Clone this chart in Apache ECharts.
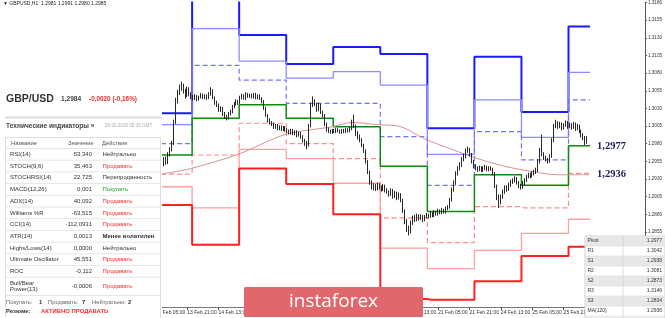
<!DOCTYPE html>
<html><head><meta charset="utf-8">
<script src="https://cdn.jsdelivr.net/npm/echarts@6/dist/echarts.min.js"></script>
<style>html,body{margin:0;padding:0;background:#fff}#c{width:665px;height:318px}</style>
</head><body><div id="c"></div>
<script>
// ---- time axis (H1 bars, trading days) ----
const tradingDays = ['7 Feb','10 Feb','11 Feb','12 Feb','13 Feb','14 Feb','17 Feb','18 Feb','19 Feb','20 Feb','21 Feb','24 Feb','25 Feb','26 Feb','27 Feb'];
const firstDayStartHour = 22;
const totalSlots = 329;
const labelEveryBars = 16;
const firstLabelTime = '13 Feb 05:00';

// ---- candles (visible part, from 13 Feb 08:00) ----
const candleStartTime = '13 Feb 08:00';
const firstOpen = 1.2945;
const closes = [1.2950,1.2958,1.2953,1.2965,1.2972,1.2980,
1.3010,1.3040,
1.3052,1.3060,1.3062,1.3055,1.3048,1.3058,1.3050,1.3046,
1.3044,1.3047,1.3043,1.3046,1.3049,1.3045,1.3048,1.3044,1.3050,1.3055,
1.3045,1.3038,1.3035,1.3028,1.3030,1.3022,1.3018,1.3016,
1.3022,1.3025,1.3032,1.3036,1.3040,1.3038,
1.3045,1.3048,1.3044,1.3050,1.3047,1.3049,1.3046,1.3050,1.3045,1.3048,1.3044,1.3040,
1.3030,1.3020,1.3013,1.3010,
1.3008,1.3003,1.3006,1.3001,1.3004,1.3000,1.3003,1.2999,
1.2998,1.2995,1.2999,1.2994,1.2997,1.2992,1.2995,1.2990,1.2985,1.2980,
1.2978,
1.3005,1.3035,1.3040,
1.3036,1.3028,1.3035,1.3025,1.3020,
1.3008,1.3000,1.2998,
1.2996,1.2999,1.2997,1.3000,1.2998,1.2996,1.2999,1.2997,1.3000,1.2998,1.3001,
1.3010,1.3005,1.2995,
1.2990,1.2985,1.2978,1.2970,
1.2955,1.2940,1.2925,1.2918,
1.2920,1.2916,1.2922,1.2918,1.2915,1.2920,1.2914,
1.2912,1.2908,1.2914,1.2905,1.2910,1.2903,1.2908,1.2900,
1.2885,1.2870,1.2860,1.2856,
1.2868,1.2875,1.2872,1.2878,1.2874,1.2877,1.2872,1.2876,1.2879,
1.2877,1.2881,1.2878,1.2883,1.2880,1.2885,1.2882,1.2886,1.2883,1.2888,1.2890,
1.2900,1.2915,1.2925,1.2938,1.2945,
1.2950,1.2958,1.2962,1.2970,1.2972,
1.2965,1.2955,1.2948,1.2945,1.2943,
1.2946,1.2942,1.2945,1.2947,1.2943,1.2946,1.2944,1.2938,
1.2920,1.2905,1.2898,
1.2905,1.2912,1.2918,1.2915,1.2922,1.2926,1.2928,1.2931,
1.2925,1.2920,1.2918,1.2924,1.2928,
1.2933,1.2936,1.2934,1.2938,1.2940,1.2942,
1.2955,1.2970,1.2965,1.2960,
1.2958,1.2955,1.2962,
1.2985,1.3005,1.3010,
1.3005,1.3008,1.3002,1.3006,1.3010,1.3004,1.3007,
1.3003,1.3008,1.3001,1.3005,
1.2998,1.2992,1.2988,1.2981,1.2985];
const highs = [1.2954,1.2961,1.2962,1.2968,1.2975,1.2984,
1.3014,1.3045,
1.3056,1.3064,1.3068,1.3065,1.3058,1.3061,1.3060,1.3053,
1.3049,1.3050,1.3049,1.3048,1.3052,1.3051,1.3050,1.3050,1.3053,1.3060,
1.3057,1.3047,1.3041,1.3037,1.3033,1.3032,1.3025,1.3021,
1.3025,1.3028,1.3035,1.3039,1.3043,1.3042,
1.3048,1.3051,1.3050,1.3053,1.3052,1.3051,1.3051,1.3052,1.3052,1.3050,1.3050,1.3046,
1.3042,1.3032,1.3022,1.3016,
1.3012,1.3010,1.3008,1.3008,1.3006,1.3006,1.3005,1.3005,
1.3002,1.3000,1.3001,1.3001,1.2999,1.2999,1.2997,1.2997,1.2992,1.2987,
1.2984,
1.3008,1.3038,1.3047,
1.3043,1.3038,1.3038,1.3037,1.3027,
1.3022,1.3010,1.3003,
1.3000,1.3001,1.3001,1.3002,1.3002,1.3000,1.3001,1.3001,1.3002,1.3002,1.3004,
1.3014,1.3021,1.3007,
1.2998,1.2993,1.2988,1.2980,
1.2972,1.2957,1.2942,1.2928,
1.2924,1.2923,1.2925,1.2924,1.2921,1.2923,1.2922,
1.2917,1.2914,1.2917,1.2916,1.2913,1.2912,1.2911,1.2910,
1.2902,1.2887,1.2873,1.2864,
1.2871,1.2878,1.2879,1.2881,1.2880,1.2880,1.2879,1.2879,1.2882,
1.2881,1.2884,1.2883,1.2886,1.2885,1.2888,1.2887,1.2889,1.2888,1.2891,1.2893,
1.2903,1.2918,1.2928,1.2941,1.2948,
1.2954,1.2961,1.2966,1.2973,1.2976,
1.2974,1.2967,1.2957,1.2951,1.2948,
1.2949,1.2948,1.2948,1.2950,1.2949,1.2948,1.2948,1.2946,
1.2940,1.2922,1.2908,
1.2908,1.2915,1.2921,1.2921,1.2925,1.2929,1.2931,1.2934,
1.2933,1.2927,1.2923,1.2927,1.2931,
1.2936,1.2939,1.2939,1.2941,1.2943,1.2946,
1.2958,1.2974,1.2993,1.2968,
1.2963,1.2960,1.2965,
1.2988,1.3008,1.3014,
1.3012,1.3011,1.3010,1.3009,1.3013,1.3012,1.3010,
1.3009,1.3011,1.3010,1.3008,
1.3007,1.3000,1.2995,1.2991,1.2991];
const lows = [1.2943,1.2948,1.2950,1.2951,1.2962,1.2969,
1.2978,1.3008,
1.3037,1.3049,1.3055,1.3051,1.3044,1.3046,1.3047,1.3043,
1.3041,1.3042,1.3040,1.3041,1.3044,1.3043,1.3043,1.3042,1.3043,1.3048,
1.3043,1.3035,1.3032,1.3025,1.3025,1.3019,1.3015,1.3013,
1.3014,1.3020,1.3023,1.3030,1.3034,1.3035,
1.3036,1.3043,1.3042,1.3042,1.3045,1.3045,1.3044,1.3044,1.3043,1.3043,1.3042,1.3037,
1.3028,1.3018,1.3010,1.3007,
1.3005,1.3001,1.3001,1.2999,1.2999,1.2998,1.2998,1.2997,
1.2995,1.2993,1.2993,1.2992,1.2992,1.2989,1.2990,1.2987,1.2982,1.2977,
1.2972,
1.2976,1.3003,1.3032,
1.3033,1.3025,1.3026,1.3022,1.3017,
1.3005,1.2997,1.2995,
1.2994,1.2994,1.2995,1.2995,1.2996,1.2994,1.2994,1.2995,1.2995,1.2996,1.2996,
1.2999,1.3002,1.2991,
1.2986,1.2982,1.2975,1.2967,
1.2952,1.2937,1.2922,1.2915,
1.2914,1.2913,1.2914,1.2915,1.2912,1.2913,1.2911,
1.2909,1.2905,1.2906,1.2902,1.2903,1.2900,1.2901,1.2897,
1.2882,1.2866,1.2855,1.2850,
1.2853,1.2865,1.2869,1.2870,1.2871,1.2872,1.2869,1.2870,1.2874,
1.2874,1.2875,1.2876,1.2876,1.2878,1.2878,1.2880,1.2880,1.2881,1.2881,1.2886,
1.2888,1.2898,1.2912,1.2922,1.2935,
1.2942,1.2947,1.2955,1.2959,1.2967,
1.2962,1.2952,1.2945,1.2942,1.2940,
1.2941,1.2940,1.2940,1.2943,1.2941,1.2941,1.2942,1.2935,
1.2917,1.2900,1.2889,
1.2894,1.2902,1.2909,1.2912,1.2913,1.2919,1.2923,1.2925,
1.2922,1.2917,1.2915,1.2916,1.2921,
1.2926,1.2931,1.2931,1.2932,1.2935,1.2937,
1.2940,1.2952,1.2962,1.2957,
1.2955,1.2952,1.2953,
1.2960,1.2982,1.3002,
1.3001,1.3002,1.2999,1.3000,1.3004,1.3001,1.3002,
1.3000,1.3001,1.2998,1.2999,
1.2995,1.2989,1.2985,1.2978,1.2980];

// ---- daily pivot levels (13 Feb .. 26 Feb) ----
const pivotDays = ['13 Feb','14 Feb','17 Feb','18 Feb','19 Feb','20 Feb','21 Feb','24 Feb','25 Feb','26 Feb'];
const R3 = [1.3023,1.3218,1.3134,1.3093,1.3117,1.3107,1.3002,1.3103,1.3025,1.3146];
const R2 = [1.3007,1.3143,1.3097,1.3073,1.3082,1.3063,1.2965,1.3042,1.2989,1.3081];
const R1 = [1.2980,1.3091,1.3070,1.3037,1.3037,1.2990,1.2921,1.2997,1.2957,1.3042];
const PP = [1.2964,1.3016,1.3035,1.3016,1.3004,1.2948,1.2884,1.2936,1.2921,1.2977];
const S1 = [1.2937,1.2964,1.3009,1.2980,1.2959,1.2875,1.2840,1.2891,1.2889,1.2938];
const S2 = [1.2919,1.2889,1.2972,1.2959,1.2924,1.2832,1.2803,1.2829,1.2853,1.2873];
const S3 = [1.2893,1.2837,1.2945,1.2923,1.2880,1.2760,1.2759,1.2785,1.2821,1.2834];

// ---- MA(120) read at sample times ----
const maTimes = ['13 Feb 08:00','13 Feb 23:00','14 Feb 23:00','17 Feb 23:00','18 Feb 23:00','19 Feb 09:00','19 Feb 22:00','20 Feb 10:00','20 Feb 22:00','21 Feb 12:00','24 Feb 01:00','24 Feb 15:00','25 Feb 04:00','25 Feb 18:00','26 Feb 10:00'];
const maValues = [1.2937,1.2945,1.2965,1.2993,1.3004,1.3010,1.3007,1.3004,1.2987,1.2972,1.2959,1.2948,1.2941,1.2936,1.2936];

// ---- price axis labels ----
const priceTicks = [1.2855,1.2880,1.2905,1.2930,1.2955,1.2980,1.3005,1.3030,1.3055,1.3080,1.3105,1.3130,1.3155,1.3180];
const priceMin = 1.27487, priceMax = 1.3180;

// ---- indicator panel ----
const pairName = 'GBP/USD', pairPrice = '1,2984', pairChange = '-0,0020 (-0,16%)';
const indNames = ['RSI(14)','STOCH(9,6)','STOCHRSI(14)','MACD(12,26)','ADX(14)','Williams %R','CCI(14)','ATR(14)','Highs/Lows(14)','Ultimate Oscillator','ROC','Bull/Bear\nPower(13)'];
const indValues = ['53,340','35,463','22,725','0,001','40,092','-63,515','-112,0931','0,0013','0,0000','45,551','-0,112','-0,0006'];
const indActions = ['Нейтрально','Продавать','Перепроданность','Покупать','Продавать','Продавать','Продавать','Менее волатилен','Нейтрально','Продавать','Продавать','Продавать'];
const levelNames = ['Pivot','R1','S1','R2','S2','R3','S3','MA(120)'];

// ================= build =================
const cats = [];
tradingDays.forEach((d, k) => {
  for (let h = (k === 0 ? firstDayStartHour : 0); h < 24; h++) cats.push(d + ' ' + String(h).padStart(2, '0') + ':00');
});
cats.length = totalSlots;
const idx = t => cats.indexOf(t);

const cStart = idx(candleStartTime);
const lastIdx = cStart + closes.length - 1;
const candleData = cats.map(() => '-');
closes.forEach((c, k) => {
  const o = k === 0 ? firstOpen : closes[k - 1];
  candleData[cStart + k] = [o, c, lows[k], highs[k]];
});
const lastClose = closes[closes.length - 1];
const lastBar = candleData[lastIdx];

const lineEnd = lastIdx + 1;
function levelData(arr) {
  const d = cats.map(() => '-');
  pivotDays.forEach((day, k) => {
    const s = idx(day + ' 00:00');
    const e = k < pivotDays.length - 1 ? idx(pivotDays[k + 1] + ' 00:00') - 1 : lineEnd;
    for (let i = s; i <= e; i++) d[i] = arr[k];
  });
  return d;
}
const maData = cats.map(() => '-');
maTimes.forEach((t, k) => { maData[idx(t)] = maValues[k]; });

const firstLabelIdx = idx(firstLabelTime);
const showLabel = i => i >= firstLabelIdx && (i - firstLabelIdx) % labelEveryBars === 0;
const fmtComma = v => v.toFixed(4).replace('.', ',');

function lvl(name, data, color, width, dashed, z, endLbl) {
  const s = {
    name, type: 'line', data, step: 'middle', symbol: 'none', z,
    lineStyle: { color, width, type: dashed ? [5, 3] : 'solid' },
    emphasis: { disabled: true }, silent: true
  };
  if (endLbl) s.endLabel = endLbl;
  return s;
}
const endLblStyle = { show: true, distance: 8, fontFamily: '"Liberation Serif", serif', fontWeight: 'bold', fontSize: 10.5, color: '#1b1b5c' };

// ---- graphics (overlay panels) ----
const F = '"Liberation Sans", Arial, sans-serif';
function txt(x, y, text, size, fill, opts) {
  opts = opts || {};
  return { type: 'text', x, y, z: 200, silent: true, style: {
    text, fill, font: (opts.bold ? 'bold ' : '') + size + 'px ' + (opts.family || F),
    align: opts.align || 'left', textAlign: opts.align || 'left',
    verticalAlign: 'middle', textVerticalAlign: 'middle' } };
}
function rect(x, y, w, h, fill, stroke, r) {
  return { type: 'rect', z: 150, silent: true, shape: { x, y, width: w, height: h, r: r || 0 },
    style: { fill: fill || 'none', stroke: stroke || 'none', lineWidth: 1 } };
}
function hline(x1, x2, y, color, w) {
  return { type: 'line', z: 160, silent: true, shape: { x1, y1: y, x2, y2: y }, style: { stroke: color, lineWidth: w || 1 } };
}
const G = [];
// chart caption
G.push(txt(3, 4, '\u25BC GBPUSD,H1  ' + lastBar[0].toFixed(4) + ' ' + lastBar[3].toFixed(4) + ' ' + lastBar[2].toFixed(4) + ' ' + lastBar[1].toFixed(4), 5, '#222'));
// left panel
G.push(rect(0, 8, 162, 310, '#fff'));
G.push(txt(6, 99, pairName, 10.5, '#333', { bold: true }));
G.push(txt(61, 99.5, pairPrice, 6.6, '#444', { bold: true }));
G.push(txt(89, 99.5, pairChange, 6.4, '#ee2a2a', { bold: true }));
G.push(hline(5, 162, 117.5, '#dcdcdc', 2));
G.push(txt(6, 126, 'Технические индикаторы »', 6.6, '#444', { bold: true }));
G.push(txt(105, 126, '26.02.2020 05:15 GMT', 4.6, '#aaa'));
G.push(rect(5.5, 137.5, 155, 182, 'none', '#dddddd'));
G.push(txt(11, 143, 'Название', 5.8, '#555'));
G.push(txt(68, 143, 'Значение', 5.8, '#555'));
G.push(txt(102, 143, 'Действие', 5.8, '#555'));
const rowTop0 = 148.5, rowH = 11.7;
indNames.forEach((n, k) => {
  const top = rowTop0 + k * rowH;
  G.push(hline(6, 160, top, '#e6e6e6', 1));
  const isTwo = n.indexOf('\n') >= 0;
  const cy = top + 5.9 + (isTwo ? 3.3 : 0);
  if (isTwo) {
    const parts = n.split('\n');
    G.push(txt(10, cy - 3.3, parts[0], 6, '#333'));
    G.push(txt(10, cy + 3.3, parts[1], 6, '#333'));
  } else G.push(txt(10, cy, n, 6, '#333'));
  G.push(txt(92, cy, indValues[k], 6, '#333', { align: 'right' }));
  const a = indActions[k];
  const col = a === 'Продавать' ? '#ff2b2b' : (a === 'Покупать' ? '#1ea51e' : '#333');
  G.push(txt(102.5, cy, a, 6, col, { bold: a === 'Менее волатилен' }));
});
G.push(hline(6, 160, 295.5, '#e6e6e6', 1));
G.push(txt(6, 302, 'Покупать:', 5.8, '#666'));
G.push(txt(39, 302, '1', 5.8, '#333', { bold: true }));
G.push(txt(48, 302, 'Продавать:', 5.8, '#666'));
G.push(txt(82, 302, '7', 5.8, '#333', { bold: true }));
G.push(txt(92, 302, 'Нейтрально:', 5.8, '#666'));
G.push(txt(128, 302, '2', 5.8, '#333', { bold: true }));
G.push(txt(6, 311, 'Резюме:', 5.9, '#333', { bold: true }));
G.push(txt(41, 311, 'АКТИВНО ПРОДАВАТЬ', 5.9, '#ff2b2b', { bold: true }));
// right-bottom levels table
const lastK = pivotDays.length - 1;
const levelVals = [PP[lastK], R1[lastK], S1[lastK], R2[lastK], S2[lastK], R3[lastK], S3[lastK], maValues[maValues.length - 1]];
G.push(rect(585, 236, 80, 82, '#fff', '#cfcfcf'));
levelNames.forEach((n, k) => {
  const top = 236 + k * 10;
  if (k % 2 === 0) G.push(rect(585.5, top, 79.5, 10, '#e8e8e8'));
  G.push(hline(585.5, 665, top + 10, '#d8d8d8', 0.6));
  G.push(txt(587.5, top + 5, n, 5, '#333'));
  G.push(txt(662, top + 5, levelVals[k].toFixed(4), 5, '#333', { align: 'right' }));
});
G.push({ type: 'line', z: 170, silent: true, shape: { x1: 623, y1: 236, x2: 623, y2: 318 }, style: { stroke: '#d6d6d6', lineWidth: 0.8 } });
// logo
G.push(rect(244, 287, 179, 30, '#e0686c', null, 1.5));
G.push(txt(333.5, 301.5, 'instaforex', 19, '#ffffff', { align: 'center', family: '"Open Sans", sans-serif' }));

const option = {
  animation: false,
  backgroundColor: '#fff',
  grid: { left: 0, right: 17, top: 0, bottom: 11, containLabel: false },
  xAxis: {
    type: 'category', data: cats, boundaryGap: true,
    axisLine: { lineStyle: { color: '#777', width: 1 } },
    axisTick: { show: true, alignWithLabel: true, interval: showLabel, length: 3, lineStyle: { color: '#555' } },
    axisLabel: { interval: showLabel, align: 'left', margin: 3, fontSize: 5, color: '#333', fontFamily: F,
      formatter: v => v },
    splitLine: { show: false }
  },
  yAxis: {
    type: 'value', position: 'right', min: priceMin, max: priceMax, scale: true,
    axisLine: { show: true, lineStyle: { color: '#555', width: 1 } },
    axisTick: { show: true, customValues: priceTicks, length: 2, lineStyle: { color: '#555' } },
    axisLabel: { customValues: priceTicks, formatter: v => v.toFixed(4), fontSize: 4.6, color: '#333', margin: 3, fontFamily: F },
    splitLine: { show: false }
  },
  series: [
    lvl('R3', levelData(R3), '#1a1aff', 2, false, 3),
    lvl('R2', levelData(R2), '#8c8cff', 1.3, false, 3),
    lvl('R1', levelData(R1), '#7373ff', 1.2, true, 3),
    lvl('Pivot', levelData(PP), '#0b8a0b', 1.5, false, 4, Object.assign({ formatter: p => fmtComma(p.value) }, endLblStyle)),
    lvl('S1', levelData(S1), '#ff8a8a', 1.2, true, 3),
    lvl('S2', levelData(S2), '#ffa0a0', 1.3, false, 3),
    lvl('S3', levelData(S3), '#ff2020', 2, false, 3),
    { name: 'MA(120)', type: 'line', data: maData, connectNulls: true, smooth: 0.3, symbol: 'none', z: 4,
      lineStyle: { color: '#d39393', width: 1 }, silent: true,
      endLabel: Object.assign({ formatter: p => fmtComma(p.value) }, endLblStyle) },
    { name: 'GBPUSD', type: 'candlestick', data: candleData, z: 6, barWidth: 1, silent: true,
      itemStyle: { color: '#ffffff', color0: '#111', borderColor: '#111', borderColor0: '#111', borderWidth: 0.9 },
      markLine: { symbol: 'none', silent: true, data: [{ yAxis: lastClose }], lineStyle: { opacity: 0 },
        label: { position: 'end', formatter: lastClose.toFixed(4), backgroundColor: '#000', color: '#fff', fontSize: 4.6, padding: [1, 1, 0, 1], distance: 1, fontFamily: F } } }
  ],
  graphic: { elements: G }
};
const chart = echarts.init(document.getElementById('c'), null, { renderer: 'canvas' });
chart.setOption(option);
</script>
</body></html>
